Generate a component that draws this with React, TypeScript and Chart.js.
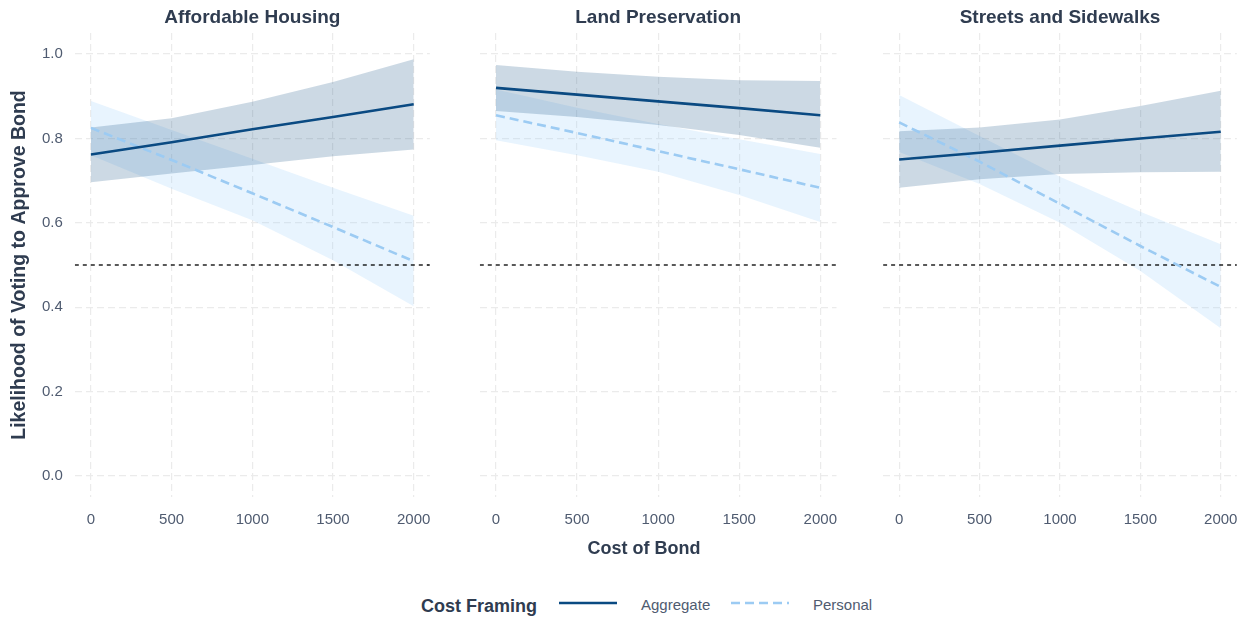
import React, { useEffect, useRef } from "react";
import { Chart, registerables } from "chart.js";

Chart.register(...registerables);

// ---- data -------------------------------------------------------------
const panelTitles = ["Affordable Housing", "Land Preservation", "Streets and Sidewalks"];
const costPoints = [0, 500, 1000, 1500, 2000];
const xTicks = [0, 500, 1000, 1500, 2000];
const yTicks = [0, 0.2, 0.4, 0.6, 0.8, 1.0];
const xLimits = [-100, 2100];
const yLimits = [-0.05, 1.05];
const referenceLevel = 0.5;
const framingLabels = ["Aggregate", "Personal"];

// Affordable Housing
const housingAggregateFit = [0.762, 0.791, 0.822, 0.851, 0.881];
const housingAggregateLow = [0.696, 0.717, 0.737, 0.758, 0.774];
const housingAggregateHigh = [0.826, 0.848, 0.887, 0.934, 0.988];
const housingPersonalFit = [0.825, 0.749, 0.670, 0.590, 0.509];
const housingPersonalLow = [0.76, 0.681, 0.606, 0.511, 0.402];
const housingPersonalHigh = [0.889, 0.82, 0.752, 0.683, 0.617];

// Land Preservation
const landAggregateFit = [0.92, 0.904, 0.888, 0.872, 0.855];
const landAggregateLow = [0.865, 0.851, 0.832, 0.808, 0.778];
const landAggregateHigh = [0.974, 0.958, 0.946, 0.938, 0.936];
const landPersonalFit = [0.855, 0.813, 0.77, 0.727, 0.683];
const landPersonalLow = [0.796, 0.76, 0.721, 0.666, 0.602];
const landPersonalHigh = [0.916, 0.873, 0.834, 0.798, 0.763];

// Streets and Sidewalks
const streetsAggregateFit = [0.75, 0.766, 0.783, 0.8, 0.816];
const streetsAggregateLow = [0.683, 0.703, 0.716, 0.72, 0.721];
const streetsAggregateHigh = [0.817, 0.826, 0.845, 0.877, 0.913];
const streetsPersonalFit = [0.838, 0.745, 0.645, 0.545, 0.448];
const streetsPersonalLow = [0.768, 0.692, 0.6, 0.486, 0.35];
const streetsPersonalHigh = [0.903, 0.806, 0.709, 0.626, 0.549];

type PanelSeries = {
  aggFit: number[];
  aggLow: number[];
  aggHigh: number[];
  perFit: number[];
  perLow: number[];
  perHigh: number[];
};

const panelSeries: PanelSeries[] = [
  {
    aggFit: housingAggregateFit, aggLow: housingAggregateLow, aggHigh: housingAggregateHigh,
    perFit: housingPersonalFit, perLow: housingPersonalLow, perHigh: housingPersonalHigh,
  },
  {
    aggFit: landAggregateFit, aggLow: landAggregateLow, aggHigh: landAggregateHigh,
    perFit: landPersonalFit, perLow: landPersonalLow, perHigh: landPersonalHigh,
  },
  {
    aggFit: streetsAggregateFit, aggLow: streetsAggregateLow, aggHigh: streetsAggregateHigh,
    perFit: streetsPersonalFit, perLow: streetsPersonalLow, perHigh: streetsPersonalHigh,
  },
];

// ---- styling ----------------------------------------------------------
const FONT = '"Liberation Sans", Arial, Helvetica, sans-serif';
const TITLE_COLOR = "#2F3C50";
const TICK_COLOR = "#4F5B70";
const AGG_COLOR = "#0A4A82";
const PER_COLOR = "#9CCBF3";
const AGG_BAND = "rgba(13, 74, 128, 0.21)";
const PER_BAND = "rgba(140, 200, 250, 0.2)";
const GRID_COLOR = "#EBEBEB";
const PER_DASH = [9, 5];
const LINE_WIDTH = 2.6;

// placement of the three facets (plot areas share width and height)
const PLOT_TOP = 33;
const PLOT_BOTTOM = 497;
const PLOT_WIDTH = 356.7;
const CANVAS_HEIGHT = 540;
const X_AXIS_HEIGHT = 38;

type PanelLayout = { canvasLeft: number; canvasWidth: number; plotLeft: number; axisWidth: number; showY: boolean };
const panelLayouts: PanelLayout[] = [
  { canvasLeft: 0, canvasWidth: 445, plotLeft: 74.8, axisWidth: 74.8, showY: true },
  { canvasLeft: 460, canvasWidth: 400, plotLeft: 479.8, axisWidth: 0, showY: false },
  { canvasLeft: 864, canvasWidth: 388, plotLeft: 883.1, axisWidth: 0, showY: false },
];

const pts = (ys: number[]) => costPoints.map((x, i) => ({ x, y: ys[i] }));

const facetTitlePlugin = {
  id: "facetTitle",
  afterDraw(chart: any, _args: any, opts: any) {
    const { ctx, chartArea } = chart;
    ctx.save();
    ctx.font = `bold 19px ${FONT}`;
    ctx.fillStyle = TITLE_COLOR;
    ctx.textAlign = "center";
    ctx.textBaseline = "middle";
    ctx.fillText(opts.text, (chartArea.left + chartArea.right) / 2, 18);
    ctx.restore();
  },
};

function Facet({ title, series, layout }: { title: string; series: PanelSeries; layout: PanelLayout }) {
  const ref = useRef<HTMLCanvasElement | null>(null);

  useEffect(() => {
    const canvas = ref.current;
    if (!canvas) return;
    const padLeft = layout.plotLeft - layout.canvasLeft - layout.axisWidth;
    const padRight = layout.canvasLeft + layout.canvasWidth - (layout.plotLeft + PLOT_WIDTH);
    const padBottom = CANVAS_HEIGHT - PLOT_BOTTOM - X_AXIS_HEIGHT;

    const hidden = { borderWidth: 0, pointRadius: 0, pointHoverRadius: 0 };

    const chart = new Chart(canvas, {
      type: "line",
      data: {
        datasets: [
          { label: "perLow", data: pts(series.perLow), ...hidden, fill: false, order: 7 },
          { label: "perHigh", data: pts(series.perHigh), ...hidden, fill: "-1", backgroundColor: PER_BAND, order: 6 },
          { label: "aggLow", data: pts(series.aggLow), ...hidden, fill: false, order: 5 },
          { label: "aggHigh", data: pts(series.aggHigh), ...hidden, fill: "-1", backgroundColor: AGG_BAND, order: 4 },
          {
            label: "reference",
            data: [
              { x: xLimits[0], y: referenceLevel },
              { x: xLimits[1], y: referenceLevel },
            ],
            borderColor: "#000000",
            borderWidth: 1.3,
            borderDash: [4, 4],
            pointRadius: 0,
            fill: false,
            order: 3,
          },
          {
            label: framingLabels[1],
            data: pts(series.perFit),
            borderColor: PER_COLOR,
            borderWidth: LINE_WIDTH,
            borderDash: PER_DASH,
            pointRadius: 0,
            fill: false,
            order: 2,
          },
          {
            label: framingLabels[0],
            data: pts(series.aggFit),
            borderColor: AGG_COLOR,
            borderWidth: LINE_WIDTH,
            pointRadius: 0,
            fill: false,
            order: 1,
          },
        ],
      },
      options: {
        animation: false,
        responsive: false,
        maintainAspectRatio: false,
        devicePixelRatio: 1,
        events: [],
        layout: { padding: { top: PLOT_TOP, left: padLeft, right: padRight, bottom: padBottom } },
        plugins: {
          legend: { display: false },
          tooltip: { enabled: false },
          title: { display: false },
          facetTitle: { text: title },
        } as any,
        scales: {
          x: {
            type: "linear",
            min: xLimits[0],
            max: xLimits[1],
            afterBuildTicks: (s: any) => {
              s.ticks = xTicks.map((v) => ({ value: v }));
            },
            afterFit: (s: any) => {
              s.height = X_AXIS_HEIGHT;
            },
            ticks: {
              autoSkip: false,
              maxRotation: 0,
              padding: 14,
              color: TICK_COLOR,
              font: { family: FONT, size: 15 },
              callback: (v: any) => String(v),
            },
            grid: { color: GRID_COLOR, lineWidth: 1.2, drawTicks: false },
            border: { display: false, dash: [7, 4] },
          },
          y: {
            type: "linear",
            min: yLimits[0],
            max: yLimits[1],
            afterBuildTicks: (s: any) => {
              s.ticks = yTicks.map((v) => ({ value: v }));
            },
            afterFit: (s: any) => {
              s.width = layout.axisWidth;
            },
            ticks: {
              display: layout.showY,
              padding: 12,
              color: TICK_COLOR,
              font: { family: FONT, size: 15 },
              callback: (v: any) => Number(v).toFixed(1),
            },
            title: {
              display: layout.showY,
              text: "Likelihood of Voting to Approve Bond",
              color: TITLE_COLOR,
              font: { family: FONT, size: 19.5, weight: "bold" },
              padding: { top: 8, bottom: 0 },
            },
            grid: { color: GRID_COLOR, lineWidth: 1.2, drawTicks: false },
            border: { display: false, dash: [7, 4] },
          },
        },
      } as any,
      plugins: [facetTitlePlugin],
    });

    return () => chart.destroy();
  }, [title, series, layout]);

  return (
    <canvas
      ref={ref}
      width={layout.canvasWidth}
      height={CANVAS_HEIGHT}
      style={{
        position: "absolute",
        left: layout.canvasLeft,
        top: 0,
        width: layout.canvasWidth,
        height: CANVAS_HEIGHT,
      }}
    />
  );
}

export default function App() {
  const titleFont = { fontFamily: FONT, fontWeight: "bold" as const, fontSize: 18, color: TITLE_COLOR };
  const labelFont = { fontFamily: FONT, fontSize: 15, color: TICK_COLOR };
  return (
    <div
      style={{
        position: "fixed",
        left: 0,
        top: 0,
        width: 1252,
        height: 621,
        background: "#ffffff",
        overflow: "hidden",
      }}
    >
      {panelTitles.map((t, i) => (
        <Facet key={t} title={t} series={panelSeries[i]} layout={panelLayouts[i]} />
      ))}

      <div
        style={{
          position: "absolute",
          left: 0,
          width: 1288,
          top: 537,
          lineHeight: "22px",
          textAlign: "center",
          whiteSpace: "nowrap",
          ...titleFont,
        }}
      >
        Cost of Bond
      </div>

      <div style={{ position: "absolute", left: 421, top: 595, lineHeight: "22px", whiteSpace: "nowrap", ...titleFont }}>
        Cost Framing
      </div>
      <svg style={{ position: "absolute", left: 559, top: 597 }} width={58} height={12}>
        <line x1={0} y1={6} x2={58} y2={6} stroke={AGG_COLOR} strokeWidth={LINE_WIDTH} />
      </svg>
      <div style={{ position: "absolute", left: 641, top: 596, lineHeight: "18px", whiteSpace: "nowrap", ...labelFont }}>
        {framingLabels[0]}
      </div>
      <svg style={{ position: "absolute", left: 731, top: 597 }} width={58} height={12}>
        <line
          x1={0}
          y1={6}
          x2={58}
          y2={6}
          stroke={PER_COLOR}
          strokeWidth={LINE_WIDTH}
          strokeDasharray={PER_DASH.join(" ")}
        />
      </svg>
      <div style={{ position: "absolute", left: 813, top: 596, lineHeight: "18px", whiteSpace: "nowrap", ...labelFont }}>
        {framingLabels[1]}
      </div>
    </div>
  );
}
